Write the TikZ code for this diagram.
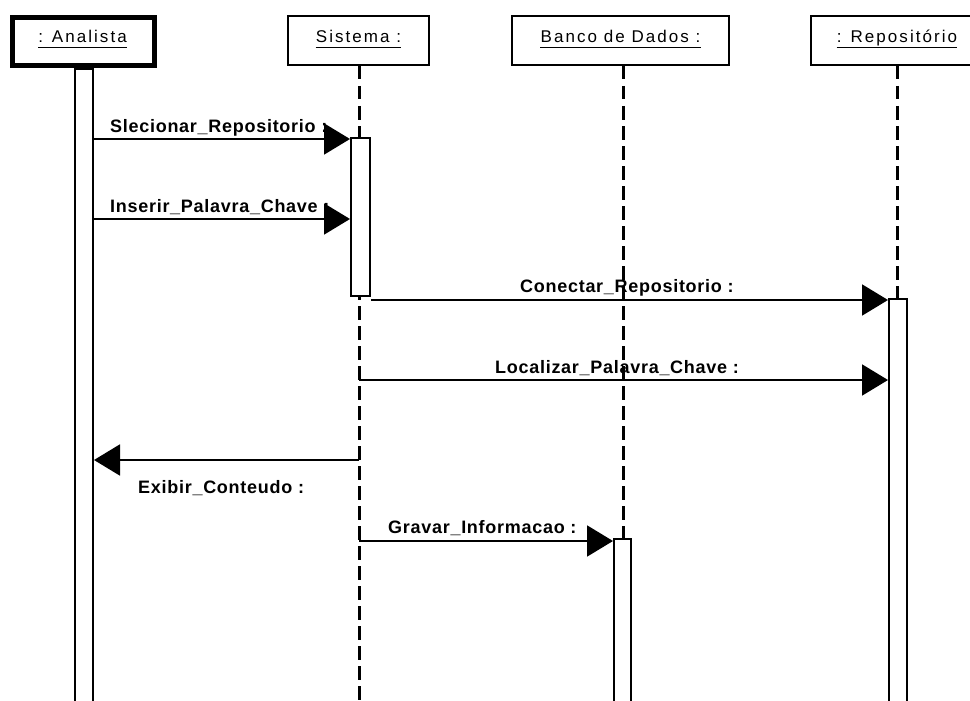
\documentclass[tikz,border=0pt]{standalone}
\usepackage{fontspec}
\setmainfont{Liberation Sans}
\newfontfamily\headfont[LetterSpace=12]{Liberation Sans}
\newfontfamily\msgfont[LetterSpace=4]{Liberation Sans}
\usetikzlibrary{arrows.meta}

\begin{document}
\begin{tikzpicture}[x=1pt,y=-1pt,
  objbox/.style={draw, line width=2pt, fill=white, inner sep=0pt, minimum height=49pt},
  actorbox/.style={objbox, line width=5pt},
  headtext/.style={font=\headfont\fontsize{17}{20}\selectfont, inner sep=0pt, anchor=base},
  uline/.style={line width=1.4pt},
  lifeline/.style={line width=3pt, dash pattern=on 13.5pt off 6.5pt},
  activation/.style={draw, line width=2pt, fill=white, inner sep=0pt, minimum width=18pt},
  msg/.style={line width=2pt, -{Triangle[length=26pt,width=31pt]}},
  msgtext/.style={font=\msgfont\bfseries\fontsize{18}{21}\selectfont, inner sep=0pt, anchor=base west}]

\useasboundingbox (0,0) rectangle (970,701);
\clip (0,0) rectangle (970,701);

% object heads
\node[actorbox, minimum width=142pt, minimum height=48.5pt] (analista) at (83.5,41.75) {};
\node[objbox, minimum width=141pt] (sistema) at (358.5,40.5) {};
\node[objbox, minimum width=217pt] (banco) at (620.5,40.5) {};
\node[objbox, minimum width=175pt] (repo) at (898.5,40.5) {};

\node[headtext] (analista-t) at (82.5,43) {: Analista};
\node[headtext] (sistema-t) at (358.5,43) {Sistema :};
\node[headtext] (banco-t) at (620.5,43) {Banco de Dados :};
\node[headtext] (repo-t) at (897,43) {: Repositório};
\foreach \t in {analista-t,sistema-t,banco-t,repo-t}
  \draw[uline] ([yshift=-4.5pt]\t.base west) -- ([yshift=-4.5pt]\t.base east);

% lifeline positions
\coordinate (bottom) at (0,712);
\coordinate (lS) at (359,0);
\coordinate (lB) at (623,0);
\coordinate (lR) at (897,0);

\draw[lifeline] (sistema.south -| lS) -- (lS |- bottom);
\draw[lifeline] (banco.south -| lB) -- (lB |- bottom);
\draw[lifeline] (repo.south -| lR) -- (lR |- bottom);

% activation bars
\node[activation, minimum height=651pt] (actA) at (84,394.5) {};
\node[activation, minimum width=19pt, minimum height=158pt] (actS) at (360.5,217) {};
\node[activation, minimum height=421pt] (actR) at (898,509.5) {};
\node[activation, minimum width=17pt, minimum height=181pt] (actB) at (622.5,629.5) {};

% message rows
\coordinate (y1) at (0,139);
\coordinate (y2) at (0,219);
\coordinate (y3) at (0,300);
\coordinate (y4) at (0,380);
\coordinate (y5) at (0,460);
\coordinate (y6) at (0,541);

\draw[msg] (actA.east |- y1) -- (actS.west |- y1);
\draw[msg] (actA.east |- y2) -- (actS.west |- y2);
\draw[msg] (actS.east |- y3) -- (actR.west |- y3);
\draw[msg] (lS |- y4) -- (actR.west |- y4);
\draw[msg] (lS |- y5) -- (actA.east |- y5);
\draw[msg] (lS |- y6) -- (actB.west |- y6);

% message names
\node[msgtext] (m1) at (110,132) {Slecionar\_Repositorio :};
\node[msgtext] (m2) at (110,212) {Inserir\_Palavra\_Chave :};
\node[msgtext] (m3) at (520,292) {Conectar\_Repositorio :};
\node[msgtext] (m4) at (495,373) {Localizar\_Palavra\_Chave :};
\node[msgtext] (m5) at (138,493) {Exibir\_Conteudo :};
\node[msgtext] (m6) at (388,533) {Gravar\_Informacao :};
\end{tikzpicture}
\end{document}
